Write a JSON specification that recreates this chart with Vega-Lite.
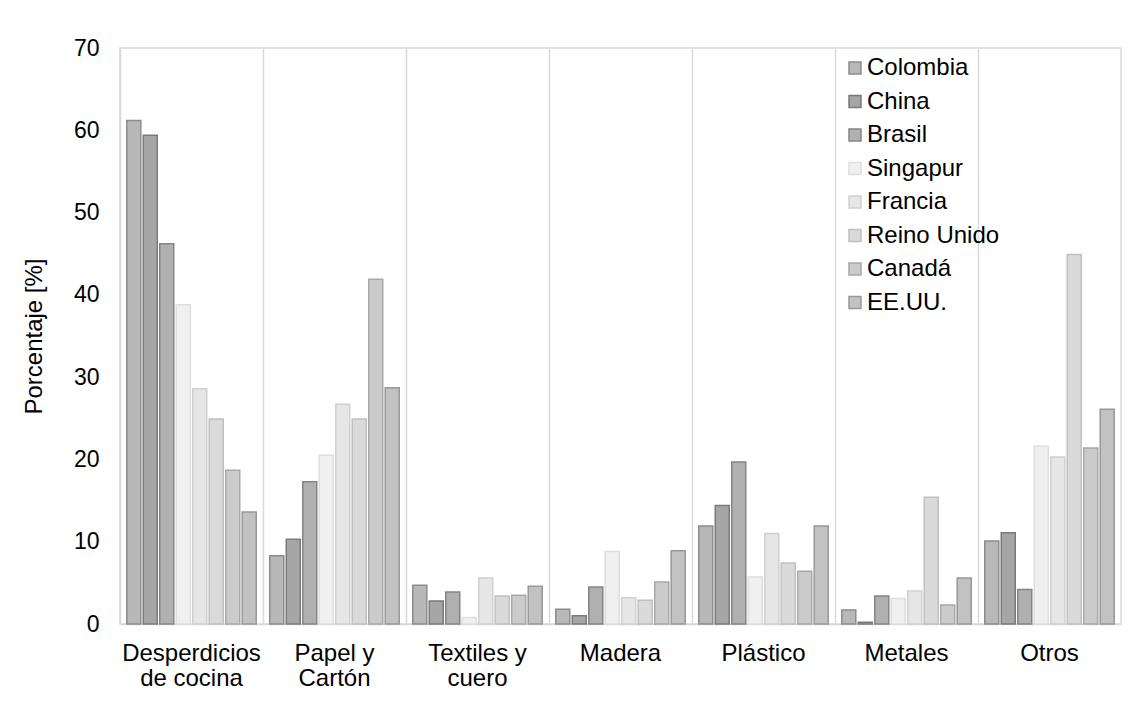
{
  "$schema": "https://vega.github.io/schema/vega-lite/v6.json",
  "width": 1001,
  "height": 576,
  "autosize": {"type": "none"},
  "padding": {"left": 120, "top": 48, "right": 12, "bottom": 95},
  "background": "white",
  "config": {
    "font": "Liberation Sans",
    "view": {"stroke": "#d9d9d9", "strokeWidth": 1.5}
  },
  "data": {
    "values": [
      {"categoria": "Desperdicios de cocina", "pais": "Colombia", "valor": 61.2},
      {"categoria": "Desperdicios de cocina", "pais": "China", "valor": 59.4},
      {"categoria": "Desperdicios de cocina", "pais": "Brasil", "valor": 46.2},
      {"categoria": "Desperdicios de cocina", "pais": "Singapur", "valor": 38.8},
      {"categoria": "Desperdicios de cocina", "pais": "Francia", "valor": 28.6},
      {"categoria": "Desperdicios de cocina", "pais": "Reino Unido", "valor": 24.9},
      {"categoria": "Desperdicios de cocina", "pais": "Canadá", "valor": 18.7},
      {"categoria": "Desperdicios de cocina", "pais": "EE.UU.", "valor": 13.6},
      {"categoria": "Papel y Cartón", "pais": "Colombia", "valor": 8.3},
      {"categoria": "Papel y Cartón", "pais": "China", "valor": 10.3},
      {"categoria": "Papel y Cartón", "pais": "Brasil", "valor": 17.3},
      {"categoria": "Papel y Cartón", "pais": "Singapur", "valor": 20.5},
      {"categoria": "Papel y Cartón", "pais": "Francia", "valor": 26.7},
      {"categoria": "Papel y Cartón", "pais": "Reino Unido", "valor": 24.9},
      {"categoria": "Papel y Cartón", "pais": "Canadá", "valor": 41.9},
      {"categoria": "Papel y Cartón", "pais": "EE.UU.", "valor": 28.7},
      {"categoria": "Textiles y cuero", "pais": "Colombia", "valor": 4.7},
      {"categoria": "Textiles y cuero", "pais": "China", "valor": 2.8},
      {"categoria": "Textiles y cuero", "pais": "Brasil", "valor": 3.9},
      {"categoria": "Textiles y cuero", "pais": "Singapur", "valor": 0.8},
      {"categoria": "Textiles y cuero", "pais": "Francia", "valor": 5.6},
      {"categoria": "Textiles y cuero", "pais": "Reino Unido", "valor": 3.4},
      {"categoria": "Textiles y cuero", "pais": "Canadá", "valor": 3.5},
      {"categoria": "Textiles y cuero", "pais": "EE.UU.", "valor": 4.6},
      {"categoria": "Madera", "pais": "Colombia", "valor": 1.8},
      {"categoria": "Madera", "pais": "China", "valor": 1.0},
      {"categoria": "Madera", "pais": "Brasil", "valor": 4.5},
      {"categoria": "Madera", "pais": "Singapur", "valor": 8.8},
      {"categoria": "Madera", "pais": "Francia", "valor": 3.2},
      {"categoria": "Madera", "pais": "Reino Unido", "valor": 2.9},
      {"categoria": "Madera", "pais": "Canadá", "valor": 5.1},
      {"categoria": "Madera", "pais": "EE.UU.", "valor": 8.9},
      {"categoria": "Plástico", "pais": "Colombia", "valor": 11.9},
      {"categoria": "Plástico", "pais": "China", "valor": 14.4},
      {"categoria": "Plástico", "pais": "Brasil", "valor": 19.7},
      {"categoria": "Plástico", "pais": "Singapur", "valor": 5.7},
      {"categoria": "Plástico", "pais": "Francia", "valor": 11.0},
      {"categoria": "Plástico", "pais": "Reino Unido", "valor": 7.4},
      {"categoria": "Plástico", "pais": "Canadá", "valor": 6.4},
      {"categoria": "Plástico", "pais": "EE.UU.", "valor": 11.9},
      {"categoria": "Metales", "pais": "Colombia", "valor": 1.7},
      {"categoria": "Metales", "pais": "China", "valor": 0.2},
      {"categoria": "Metales", "pais": "Brasil", "valor": 3.4},
      {"categoria": "Metales", "pais": "Singapur", "valor": 3.1},
      {"categoria": "Metales", "pais": "Francia", "valor": 4.0},
      {"categoria": "Metales", "pais": "Reino Unido", "valor": 15.4},
      {"categoria": "Metales", "pais": "Canadá", "valor": 2.3},
      {"categoria": "Metales", "pais": "EE.UU.", "valor": 5.6},
      {"categoria": "Otros", "pais": "Colombia", "valor": 10.1},
      {"categoria": "Otros", "pais": "China", "valor": 11.1},
      {"categoria": "Otros", "pais": "Brasil", "valor": 4.2},
      {"categoria": "Otros", "pais": "Singapur", "valor": 21.6},
      {"categoria": "Otros", "pais": "Francia", "valor": 20.3},
      {"categoria": "Otros", "pais": "Reino Unido", "valor": 44.9},
      {"categoria": "Otros", "pais": "Canadá", "valor": 21.4},
      {"categoria": "Otros", "pais": "EE.UU.", "valor": 26.1}
    ]
  },
  "mark": {"type": "bar", "strokeWidth": 1.5},
  "encoding": {
    "x": {
      "field": "categoria",
      "type": "nominal",
      "sort": null,
      "scale": {"paddingInner": 0, "paddingOuter": 0},
      "axis": {
        "title": null,
        "labelAngle": 0,
        "labelFontSize": 24,
        "labelColor": "#000000",
        "labelLineHeight": 25,
        "labelPadding": 17,
        "labelExpr": "datum.label == 'Desperdicios de cocina' ? ['Desperdicios', 'de cocina'] : datum.label == 'Papel y Cartón' ? ['Papel y', 'Cartón'] : datum.label == 'Textiles y cuero' ? ['Textiles y', 'cuero'] : datum.label",
        "ticks": false,
        "domain": true,
        "domainColor": "#d9d9d9",
        "domainWidth": 1.5,
        "grid": true,
        "bandPosition": 0,
        "gridColor": "#d9d9d9",
        "gridWidth": 1.5
      }
    },
    "xOffset": {
      "field": "pais",
      "type": "nominal",
      "scale": {
        "domain": ["Colombia", "China", "Brasil", "Singapur", "Francia", "Reino Unido", "Canadá", "EE.UU."],
        "paddingInner": 0.15,
        "paddingOuter": 0.41
      }
    },
    "y": {
      "field": "valor",
      "type": "quantitative",
      "scale": {"domain": [0, 70], "nice": false},
      "axis": {
        "title": "Porcentaje [%]",
        "titleFontSize": 24,
        "titleFontWeight": "normal",
        "titleColor": "#000000",
        "titleX": -74,
        "titleY": 288,
        "values": [0, 10, 20, 30, 40, 50, 60, 70],
        "labelFontSize": 23,
        "labelColor": "#000000",
        "labelPadding": 21,
        "ticks": false,
        "domain": false,
        "grid": false
      }
    },
    "fill": {
      "field": "pais",
      "type": "nominal",
      "scale": {
        "domain": ["Colombia", "China", "Brasil", "Singapur", "Francia", "Reino Unido", "Canadá", "EE.UU."],
        "range": ["#b8b8b8", "#a6a6a6", "#b0b0b0", "#f0f0f0", "#e6e6e6", "#dadada", "#cbcbcb", "#c2c2c2"]
      },
      "legend": {
        "title": null,
        "orient": "none",
        "legendX": 723,
        "legendY": 8,
        "symbolType": "square",
        "symbolSize": 144,
        "symbolStrokeWidth": 1.5,
        "labelFontSize": 24,
        "labelColor": "#000000",
        "labelOffset": 0,
        "rowPadding": 9.5
      }
    },
    "stroke": {
      "field": "pais",
      "type": "nominal",
      "scale": {
        "domain": ["Colombia", "China", "Brasil", "Singapur", "Francia", "Reino Unido", "Canadá", "EE.UU."],
        "range": ["#8c8c8c", "#7a7a7a", "#858585", "#dedede", "#d0d0d0", "#c0c0c0", "#a8a8a8", "#989898"]
      },
      "legend": {
        "title": null,
        "orient": "none",
        "legendX": 723,
        "legendY": 8,
        "symbolType": "square",
        "symbolSize": 144,
        "symbolStrokeWidth": 1.5,
        "labelFontSize": 24,
        "labelColor": "#000000",
        "labelOffset": 0,
        "rowPadding": 9.5
      }
    }
  }
}
